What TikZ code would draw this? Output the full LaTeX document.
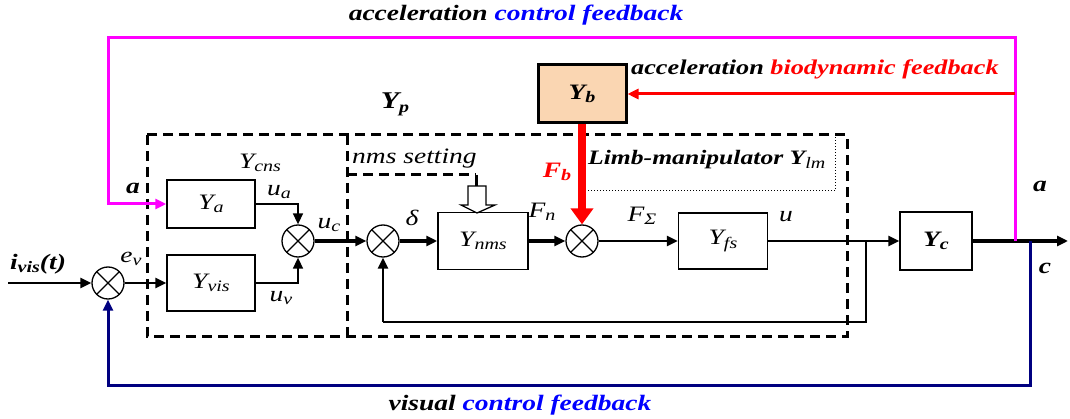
\documentclass[tikz,border=0pt]{standalone}
\usepackage{fontspec}
\setmainfont{Liberation Serif}[FakeStretch=1.25]
\usetikzlibrary{arrows.meta}
\definecolor{mag}{RGB}{255,0,255}
\definecolor{navyb}{RGB}{0,0,128}
\definecolor{peach}{RGB}{250,214,178}
\definecolor{bluet}{RGB}{0,0,255}
\newcommand\sbs[1]{\raisebox{-0.35ex}{\fontsize{16}{16}\selectfont #1}}
\begin{document}
\begin{tikzpicture}[x=1pt,y=-1pt,
  font=\fontsize{22}{26}\selectfont\itshape,
  blk/.style={draw, line width=1.5pt, inner sep=0pt},
  sumj/.style={circle, draw, line width=1.3pt, minimum size=32pt, inner sep=0pt,
    path picture={\draw[line width=1.2pt] (path picture bounding box.north west) -- (path picture bounding box.south east)
      (path picture bounding box.north east) -- (path picture bounding box.south west);}},
  tip/.style={-{Triangle[length=11pt,width=10pt]}},
  thn/.style={line width=1.6pt},
  med/.style={line width=2.6pt},
  thk/.style={line width=4pt},
  dsh/.style={line width=3pt, dash pattern=on 10pt off 6pt},
  lbl/.style={inner sep=0pt},
  bfi/.style={inner sep=0pt, font=\fontsize{22}{26}\selectfont\bfseries\itshape}]
\useasboundingbox (0,0) rectangle (1070,419);

% dashed containers
\draw[dsh] (147,135) rectangle (847,336);
\draw[dsh] (347,135) -- (347,336);
\draw[dsh] (347,175) -- (476,175);
\draw[dotted, line width=1pt] (585,191) -- (835,191) -- (835,135);

% blocks
\node[blk, minimum width=88pt, minimum height=48pt] (Ya) at (211,204) {Y\sbs{a}};
\node[blk, minimum width=88pt, minimum height=56pt] (Yvis) at (211,283) {Y\sbs{vis}};
\node[blk, minimum width=90pt, minimum height=57pt] (Ynms) at (483,241) {Y\sbs{nms}};
\node[blk, minimum width=89pt, minimum height=56pt] (Yfs) at (723,241) {Y\sbs{fs}};
\node[blk, minimum width=72pt, minimum height=58pt, font=\fontsize{22}{26}\selectfont\bfseries\itshape] (Yc) at (936,241) {Y\sbs{c}};
\node[draw, line width=3pt, fill=peach, minimum width=88pt, minimum height=58pt, inner sep=0pt, font=\fontsize{22}{26}\selectfont\bfseries\itshape] (Yb) at (582,94) {Y\sbs{b}};

% summing junctions
\node[sumj] (s1) at (108,283) {};
\node[sumj] (s2) at (298,241) {};
\node[sumj] (s3) at (383,241) {};
\node[sumj] (s4) at (582,241) {};

% coordinates
\coordinate (in) at (8,283);
\coordinate (br) at (866,241);
\coordinate (fb) at (383,322);
\coordinate (out) at (1068,241);
\coordinate (ma) at (1015,241);
\coordinate (topL) at (108,38);
\coordinate (rb) at (1015,94);
\coordinate (bc) at (1030,241);
\coordinate (botL) at (108,385);

% nms setting hollow arrow
\draw[line width=3pt] (476,175) -- (476,186);
\draw[line width=1.3pt] (468,186) -- (486,186) -- (486,205) -- (495,205) -- (477,213) -- (461,205) -- (468,205) -- cycle;

% connectors
\draw[med,tip] (in) -- (s1);
\draw[med,tip] (s1) -- (Yvis);
\draw[thn,tip] (Ya.east) -| (s2.north);
\draw[thn,tip] (Yvis.east) -| (s2.south);
\draw[thk,tip] (s2) -- (s3);
\draw[thk,tip] (s3) -- (Ynms);
\draw[thk,tip] (Ynms) -- (s4);
\draw[med,tip] (s4) -- (Yfs);
\draw[med,tip] (Yfs) -- (Yc);
\draw[thn] (br) |- (fb);
\draw[med,tip] (fb) -- (s3.south);
\draw[thk,tip] (Yc) -- (out);
\draw[mag, line width=3pt, tip] (ma) |- (topL) |- (Ya.west);
\draw[red, line width=3pt, tip] (rb) -- (Yb);
\draw[red, line width=8pt, -{Triangle[length=16pt,width=22pt]}] (Yb) -- (s4);
\draw[navyb, line width=3pt, tip] (bc) |- (botL) -- (s1.south);

% labels
\node[bfi] (t1) at (516,15) {acceleration \textcolor{bluet}{control feedback}};
\node[bfi, anchor=west, font=\fontsize{21}{26}\selectfont\bfseries\itshape] (t2) at (631,69) {acceleration \textcolor{red}{biodynamic feedback}};
\node[bfi] (t3) at (520,405) {visual \textcolor{bluet}{control feedback}};
\node[bfi, font=\fontsize{24}{26}\selectfont\bfseries\itshape] (lp) at (395,104) {Y\sbs{p}};
\node[lbl] (lcns) at (260,163) {Y\sbs{cns}};
\node[lbl, anchor=west] (lnms) at (352,159) {nms setting};
\node[bfi, anchor=west, font=\fontsize{20.5}{26}\selectfont\bfseries\itshape] (llm) at (588,160) {Limb-manipulator Y\sbs{\mdseries lm}};
\node[bfi, text=red] (lfb) at (557,172) {F\sbs{b}};
\node[bfi] (la1) at (133,188) {a};
\node[bfi] (la2) at (1040,186) {a};
\node[bfi] (lc) at (1045,268) {c};
\node[bfi] (lin) at (38,264) {i\sbs{vis}(t)};
\node[lbl] (lev) at (131,259) {e\sbs{v}};
\node[lbl] (lua) at (279,192) {u\sbs{a}};
\node[lbl] (luv) at (281,298) {u\sbs{v}};
\node[lbl] (luc) at (329,225) {u\sbs{c}};
\node[lbl] (ld) at (412,218) {δ};
\node[lbl] (lfn) at (542,212) {F\sbs{n}};
\node[lbl] (lfs) at (642,216) {F\sbs{Σ}};
\node[lbl] (lu) at (786,217) {u};
\end{tikzpicture}
\end{document}
